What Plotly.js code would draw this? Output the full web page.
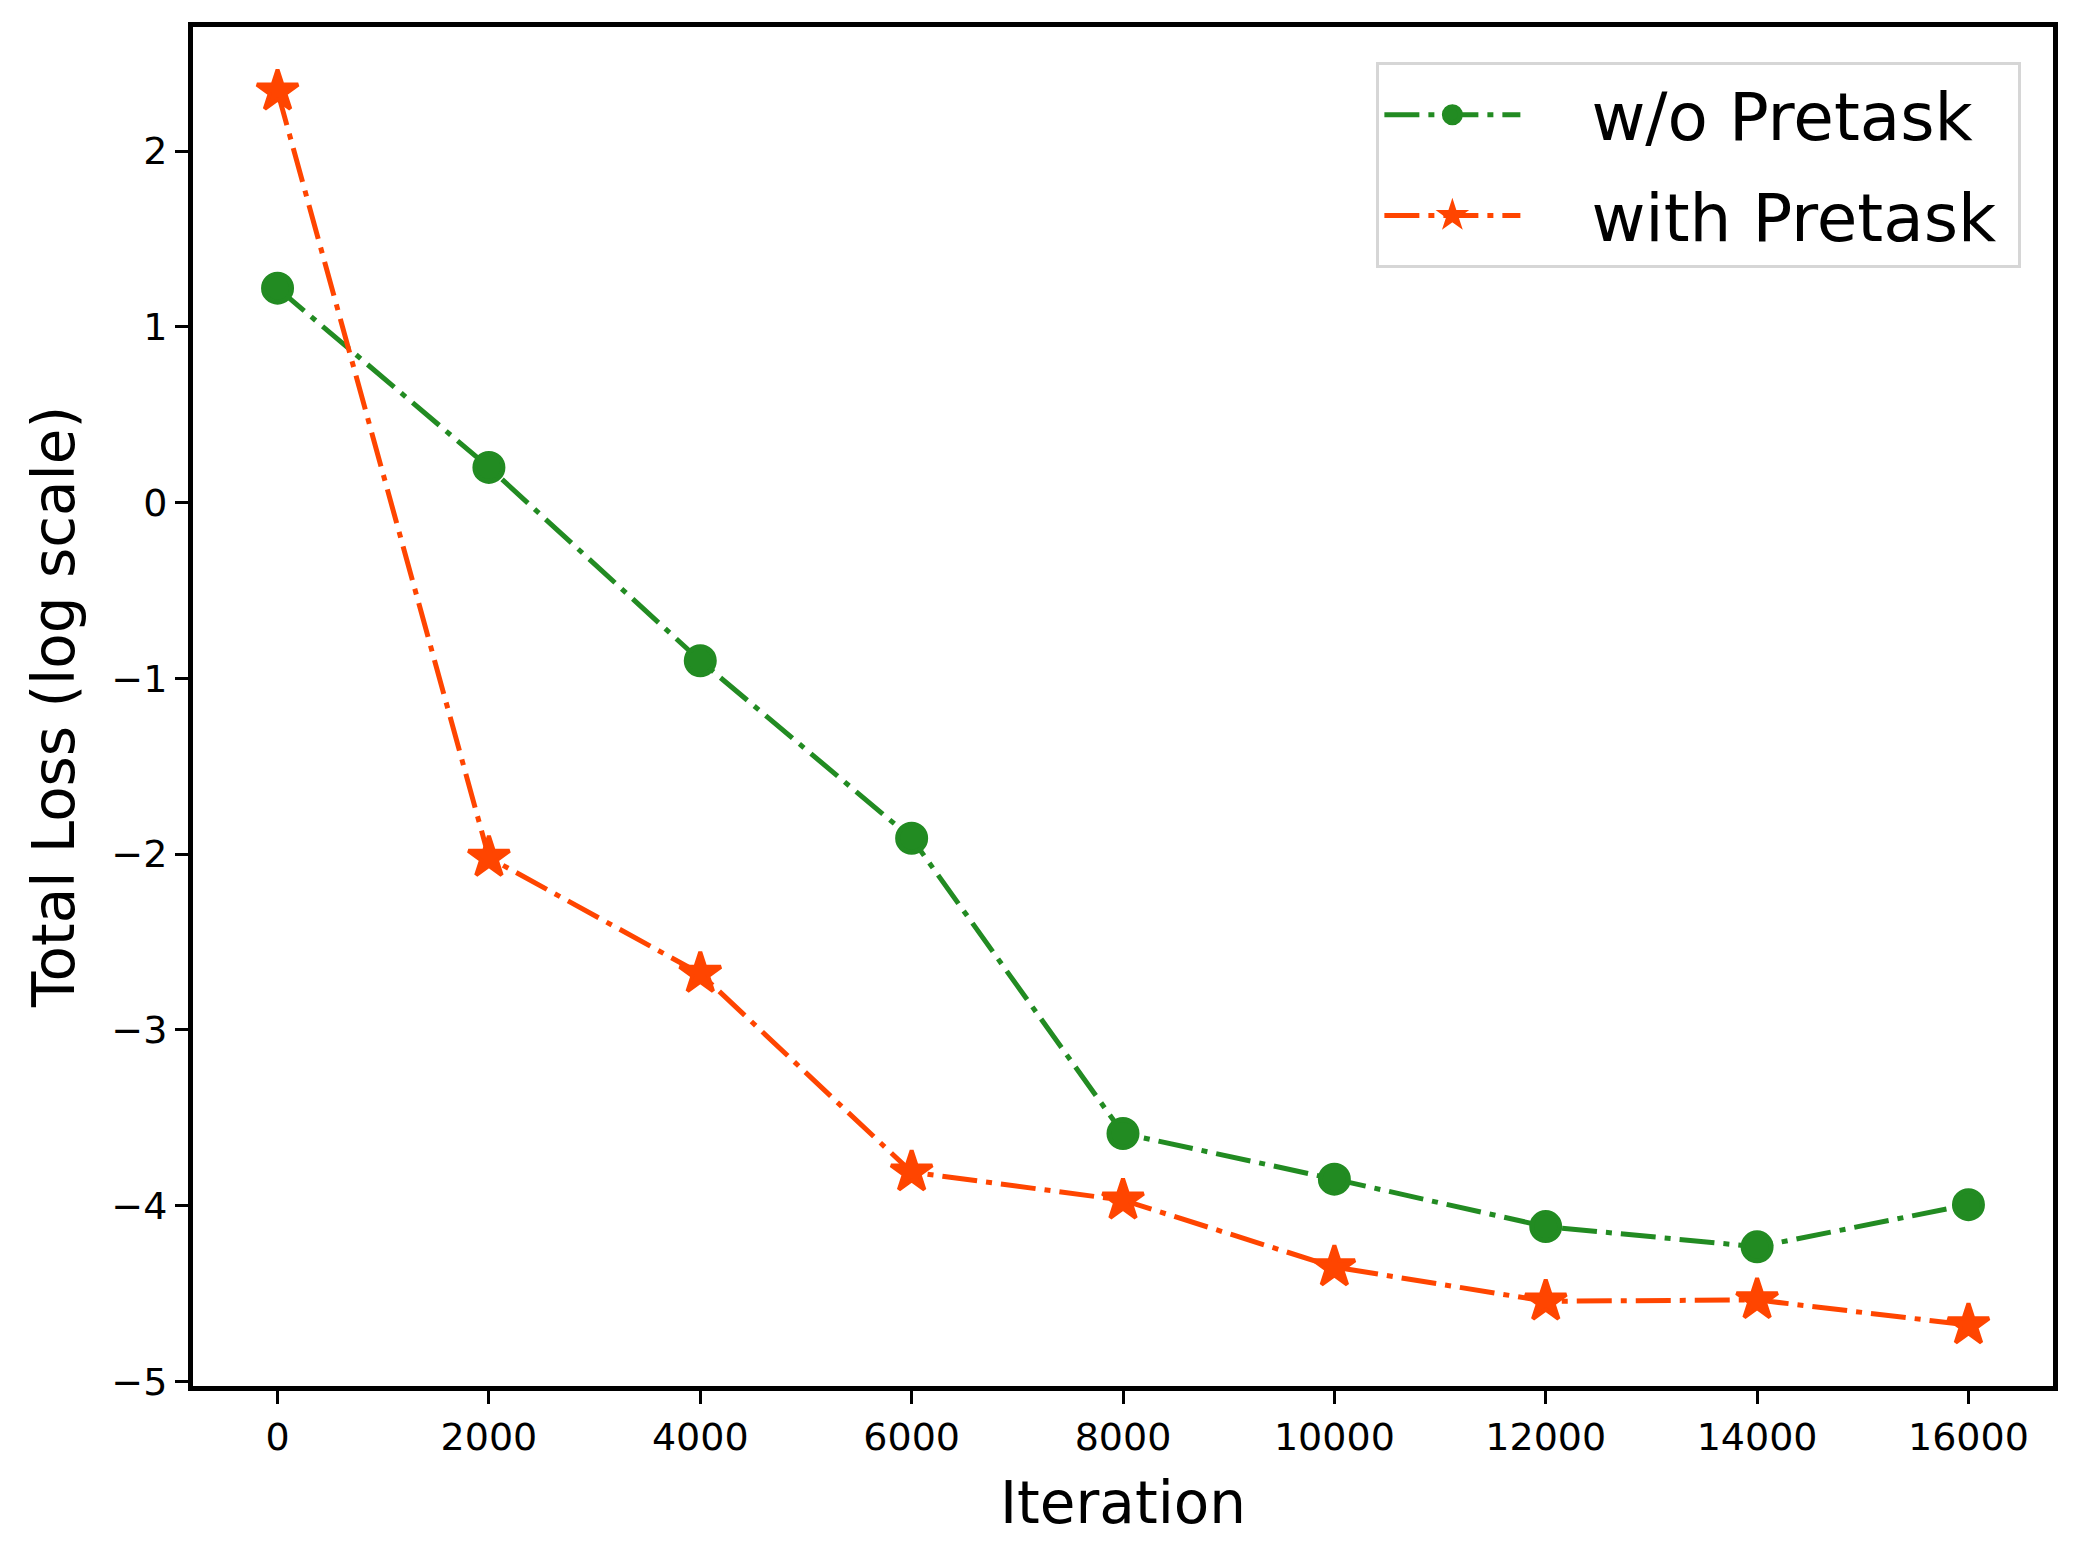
<!DOCTYPE html>
<html>
<head>
<meta charset="utf-8">
<script src="https://cdn.plot.ly/plotly-3.0.1.min.js"></script>
<style>html,body{margin:0;padding:0;background:#fff;}</style>
</head>
<body>
<div id="chart" style="width:2084px;height:1563px;"></div>
<script>
const iterations = [0, 2000, 4000, 6000, 8000, 10000, 12000, 14000, 16000];
const lossWithout = [1.22, 0.20, -0.90, -1.91, -3.59, -3.85, -4.12, -4.235, -3.995];
const lossWith = [2.34, -2.02, -2.68, -3.81, -3.97, -4.35, -4.545, -4.537, -4.68];
const seriesNames = ['w/o Pretask', 'with Pretask'];
const xTicks = [0, 2000, 4000, 6000, 8000, 10000, 12000, 14000, 16000];
const yTicks = [-5, -4, -3, -2, -1, 0, 1, 2];

const FONT = 'DejaVu Sans, Verdana, sans-serif';
const dashDot = '35px,9px,6px,9px';
const LEAD = '\u2003';
const TRAIL = '\u2005';

const traces = [
  {
    x: iterations, y: lossWithout, name: LEAD + seriesNames[0] + TRAIL,
    legendgroup: 'g1',
    type: 'scatter', mode: 'lines+markers',
    line: {color: '#228B22', width: 5, dash: dashDot},
    marker: {color: '#228B22', size: 28, symbol: 'circle', line: {color: '#228B22', width: 5}}
  },
  {
    x: iterations, y: lossWith, name: LEAD + seriesNames[1] + TRAIL,
    legendgroup: 'g2',
    type: 'scatter', mode: 'lines+markers',
    line: {color: '#FF4500', width: 5, dash: dashDot},
    marker: {color: '#FF4500', size: 31, symbol: 'star', line: {color: '#FF4500', width: 4}}
  }
];

const layout = {
  width: 2084, height: 1563,
  margin: {l: 193, r: 31, t: 27, b: 177},
  paper_bgcolor: '#ffffff', plot_bgcolor: '#ffffff',
  font: {family: FONT, color: '#000000', size: 38},
  showlegend: true,
  legend: {
    x: 0.983, y: 0.974, xanchor: 'right', yanchor: 'top',
    bgcolor: 'rgba(255,255,255,0.8)', bordercolor: '#d6d6d6', borderwidth: 3,
    font: {family: FONT, size: 66, color: '#000000'},
    itemwidth: 136, traceorder: 'grouped', tracegroupgap: 12
  },
  xaxis: {
    range: [-800, 16800],
    tickvals: xTicks, tickformat: 'd',
    showgrid: false, zeroline: false,
    showline: true, linecolor: '#000000', linewidth: 5, mirror: true,
    ticks: 'outside', ticklen: 13, tickwidth: 3, tickcolor: '#000000',
    tickfont: {family: FONT, size: 38, color: '#000000'},
    title: {text: 'Iteration', font: {family: FONT, size: 58, color: '#000000'}, standoff: 26}
  },
  yaxis: {
    range: [-5.027, 2.706],
    tickvals: yTicks,
    showgrid: false, zeroline: false,
    showline: true, linecolor: '#000000', linewidth: 5, mirror: true,
    ticks: 'outside', ticklen: 13, tickwidth: 3, tickcolor: '#000000',
    tickfont: {family: FONT, size: 38, color: '#000000'},
    title: {text: 'Total Loss (log scale)', font: {family: FONT, size: 58, color: '#000000'}, standoff: 20}
  }
};

Plotly.newPlot('chart', traces, layout, {staticPlot: true, displayModeBar: false});
</script>
</body>
</html>
